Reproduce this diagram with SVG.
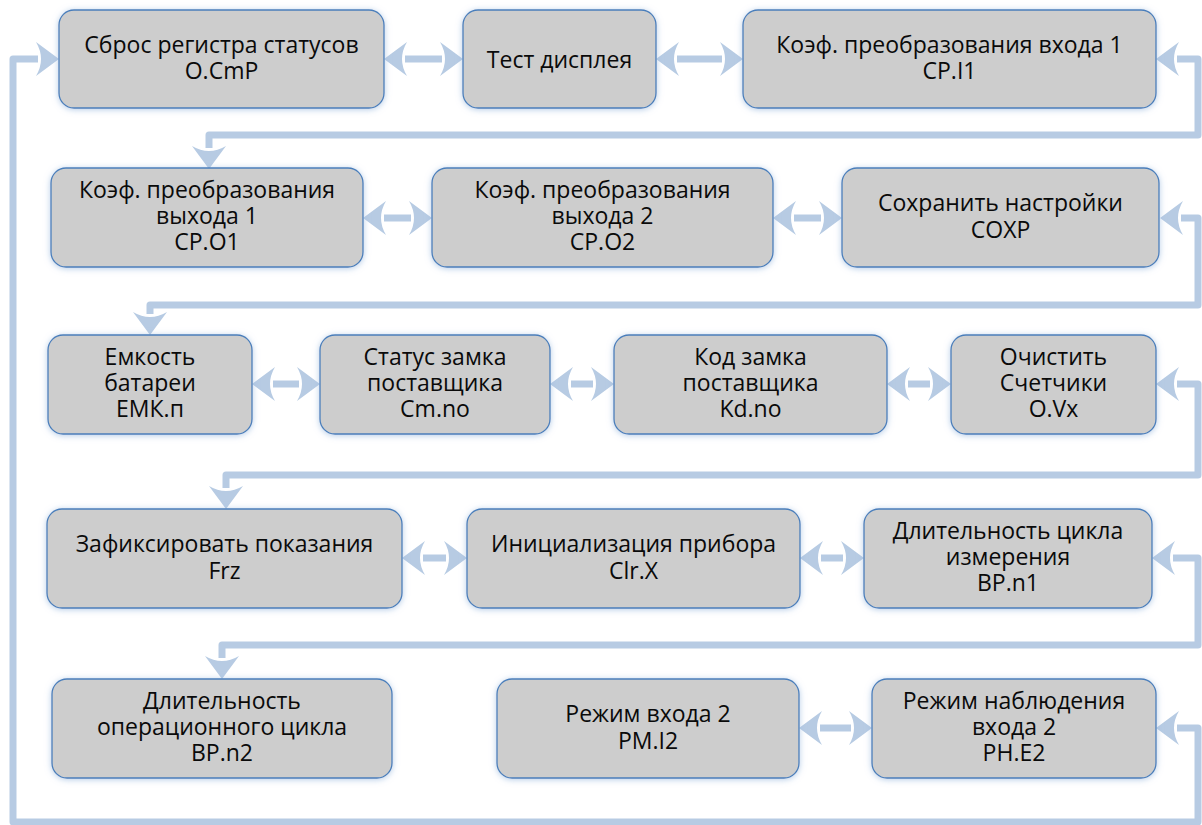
<svg xmlns="http://www.w3.org/2000/svg" width="1202" height="825" viewBox="0 0 1202 825">
<style>
  .box { fill: #CDCDCD; stroke: #4A7EBB; stroke-width: 1.3; filter: url(#glow); }
  .t { font-family: "Open Sans", "Noto Sans", sans-serif; font-size: 23px; fill: #0A0A0A; text-anchor: middle; }
  .c { fill: none; stroke: #B7CBE3; stroke-width: 7; stroke-linejoin: round; marker-start: url(#head); marker-end: url(#head); }
</style>
<defs>
  <filter id="glow" x="-10%" y="-20%" width="120%" height="140%">
    <feGaussianBlur in="SourceAlpha" stdDeviation="3" result="b"/>
    <feOffset in="b" dy="1" result="o"/>
    <feFlood flood-color="#9DBBE0" flood-opacity="0.75"/>
    <feComposite in2="o" operator="in" result="g"/>
    <feMerge><feMergeNode in="g"/><feMergeNode in="SourceGraphic"/></feMerge>
  </filter>
  <marker id="head" markerUnits="userSpaceOnUse" markerWidth="30" markerHeight="40" refX="0" refY="0" orient="auto-start-reverse" overflow="visible">
    <path d="M21,0 L-2,-17 Q8,0 -2,17 Z" fill="#B7CBE3"/>
  </marker>
</defs>

<g id="connectors">
  <path class="c" d="M405,59 H442"/>
  <path class="c" d="M677,59 H722"/>
  <path class="c" d="M1177,59 H1198 V135 H209 V148"/>
  <path class="c" d="M384,218 H411"/>
  <path class="c" d="M794,218 H821"/>
  <path class="c" d="M1181,218 H1198 V305 H150 V314"/>
  <path class="c" d="M273,384 H299"/>
  <path class="c" d="M571,384 H593"/>
  <path class="c" d="M908,384 H930"/>
  <path class="c" d="M1177,384 H1198 V475 H226 V488"/>
  <path class="c" d="M423,558 H446"/>
  <path class="c" d="M821,558 H843"/>
  <path class="c" d="M1173,558 H1198 V645 H222 V658"/>
  <path class="c" d="M820,728 H851"/>
  <path class="c" d="M1177,728 H1198 V822 H13 V59 H38"/>
</g>

<g id="n1"><rect class="box" x="59" y="10" width="325" height="98" rx="15"/>
  <text class="t" x="221.5" y="52.5">Сброс регистра статусов</text><text class="t" x="221.5" y="79">O.CmP</text></g>
<g id="n2"><rect class="box" x="463" y="10" width="193" height="98" rx="15"/>
  <text class="t" x="559.5" y="67.5">Тест дисплея</text></g>
<g id="n3"><rect class="box" x="743" y="10" width="413" height="98" rx="15"/>
  <text class="t" x="949.5" y="52.5">Коэф. преобразования входа 1</text><text class="t" x="949.5" y="79">CP.I1</text></g>

<g id="n4"><rect class="box" x="51" y="168" width="312" height="99" rx="15"/>
  <text class="t" x="207" y="198">Коэф. преобразования</text><text class="t" x="207" y="224">выхода 1</text><text class="t" x="207" y="250">CP.O1</text></g>
<g id="n5"><rect class="box" x="432" y="168" width="341" height="99" rx="15"/>
  <text class="t" x="602.5" y="198">Коэф. преобразования</text><text class="t" x="602.5" y="224">выхода 2</text><text class="t" x="602.5" y="250">CP.O2</text></g>
<g id="n6"><rect class="box" x="842" y="168" width="317" height="99" rx="15"/>
  <text class="t" x="1000.5" y="211">Сохранить настройки</text><text class="t" x="1000.5" y="237.5">СОХР</text></g>

<g id="n7"><rect class="box" x="48" y="335" width="204" height="99" rx="15"/>
  <text class="t" x="150" y="365">Емкость</text><text class="t" x="150" y="391">батареи</text><text class="t" x="150" y="417">ЕМК.п</text></g>
<g id="n8"><rect class="box" x="320" y="335" width="230" height="99" rx="15"/>
  <text class="t" x="435" y="365">Статус замка</text><text class="t" x="435" y="391">поставщика</text><text class="t" x="435" y="417">Cm.no</text></g>
<g id="n9"><rect class="box" x="614" y="335" width="273" height="99" rx="15"/>
  <text class="t" x="750.5" y="365">Код замка</text><text class="t" x="750.5" y="391">поставщика</text><text class="t" x="750.5" y="417">Kd.no</text></g>
<g id="n10"><rect class="box" x="951" y="335" width="205" height="99" rx="15"/>
  <text class="t" x="1053.5" y="365">Очистить</text><text class="t" x="1053.5" y="391">Счетчики</text><text class="t" x="1053.5" y="417">O.Vx</text></g>

<g id="n11"><rect class="box" x="47" y="509" width="355" height="99" rx="15"/>
  <text class="t" x="224.5" y="552">Зафиксировать показания</text><text class="t" x="224.5" y="578.5">Frz</text></g>
<g id="n12"><rect class="box" x="467" y="509" width="333" height="99" rx="15"/>
  <text class="t" x="633.5" y="552">Инициализация прибора</text><text class="t" x="633.5" y="578.5">Clr.X</text></g>
<g id="n13"><rect class="box" x="864" y="509" width="288" height="99" rx="15"/>
  <text class="t" x="1008" y="539">Длительность цикла</text><text class="t" x="1008" y="565">измерения</text><text class="t" x="1008" y="591">BP.n1</text></g>

<g id="n14"><rect class="box" x="52" y="679" width="340" height="99" rx="15"/>
  <text class="t" x="222" y="709">Длительность</text><text class="t" x="222" y="735">операционного цикла</text><text class="t" x="222" y="761">BP.n2</text></g>
<g id="n15"><rect class="box" x="497" y="679" width="302" height="99" rx="15"/>
  <text class="t" x="648" y="722">Режим входа 2</text><text class="t" x="648" y="748.5">PM.I2</text></g>
<g id="n16"><rect class="box" x="872" y="679" width="284" height="99" rx="15"/>
  <text class="t" x="1014" y="709">Режим наблюдения</text><text class="t" x="1014" y="735">входа 2</text><text class="t" x="1014" y="761">PH.E2</text></g>
</svg>
